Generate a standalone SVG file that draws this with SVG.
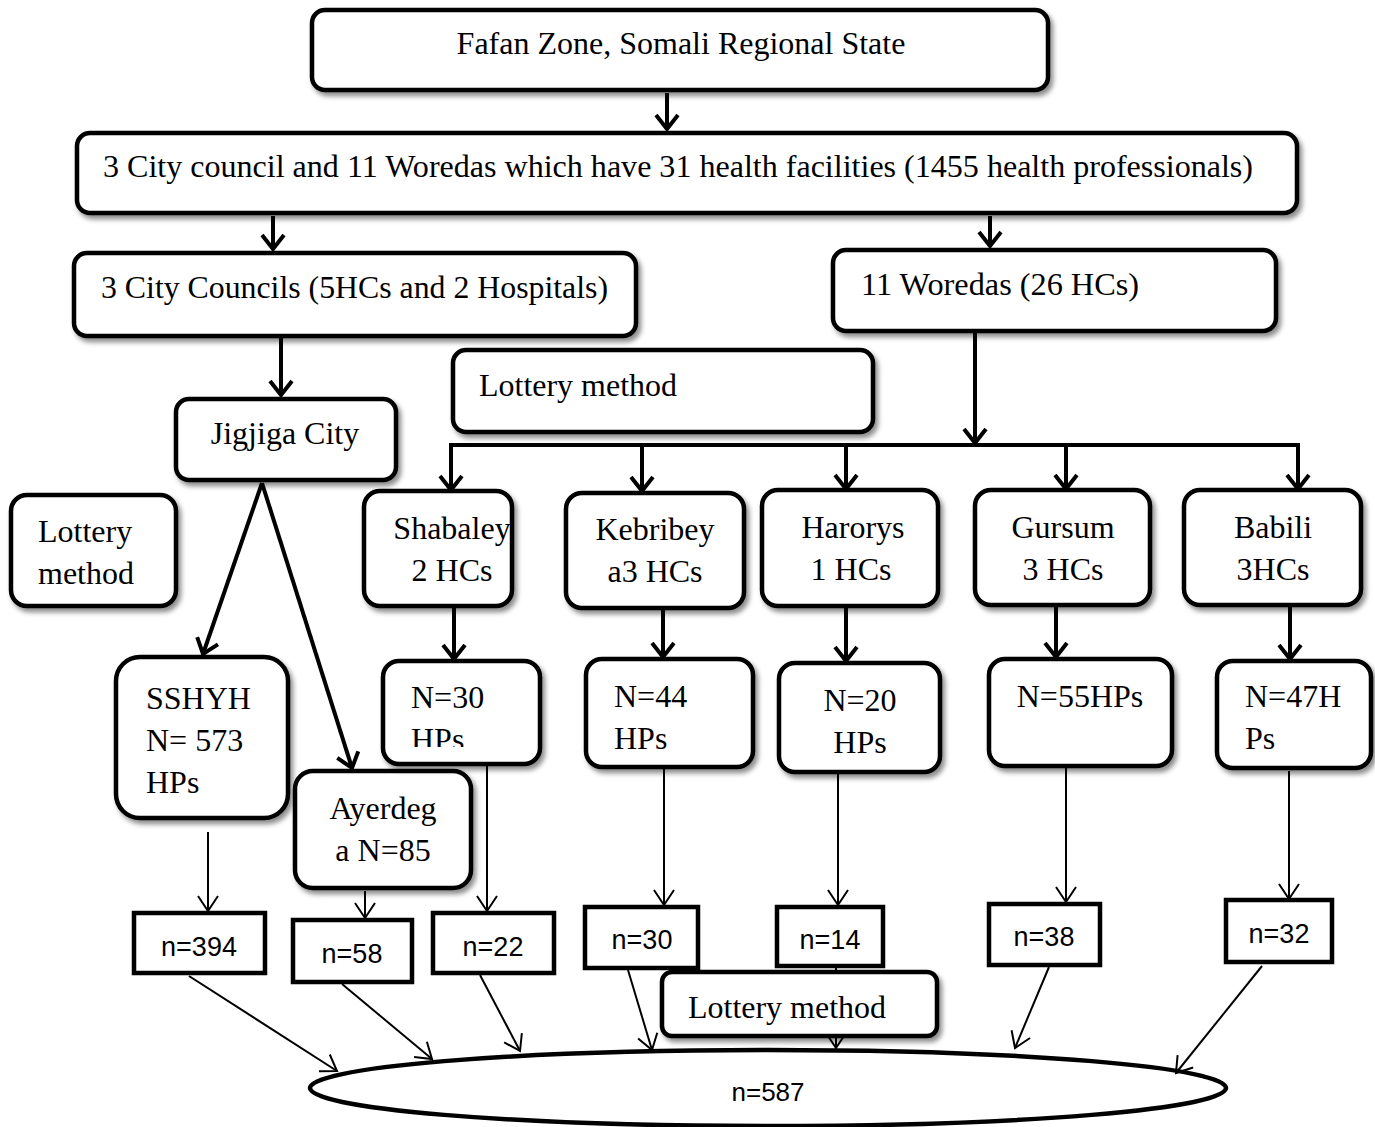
<svg xmlns="http://www.w3.org/2000/svg" width="1375" height="1127" viewBox="0 0 1375 1127">
<style>
.box{fill:#fff;stroke:#000;stroke-width:4.5;filter:url(#sh)}
.sq{fill:#fff;stroke:#000;stroke-width:4.5}
.t{font-family:"Liberation Serif","Times New Roman",serif;font-size:32px;fill:#000}
.c{text-anchor:middle}
.s{font-family:"Liberation Sans",Arial,sans-serif;font-size:27px;fill:#000;text-anchor:middle}
.thick{stroke:#000;stroke-width:4;fill:none;marker-end:url(#ah)}
.bar{stroke:#000;stroke-width:4;fill:none}
.thin{stroke:#000;stroke-width:2;fill:none;marker-end:url(#ahs)}
</style>
<defs>
<filter id="sh" x="-10%" y="-10%" width="130%" height="140%">
<feDropShadow dx="3" dy="4" stdDeviation="2.5" flood-color="#000" flood-opacity="0.45"/>
</filter>
<marker id="ah" viewBox="-18 -14 22 28" refX="0" refY="0" markerWidth="22" markerHeight="28" markerUnits="userSpaceOnUse" orient="auto">
<path d="M-14,-11 L0,0 L-14,11" fill="none" stroke="#000" stroke-width="4"/>
</marker>
<marker id="ahs" viewBox="-18 -12 20 24" refX="0" refY="0" markerWidth="20" markerHeight="24" markerUnits="userSpaceOnUse" orient="auto">
<path d="M-15,-10 L0,0 L-15,10" fill="none" stroke="#000" stroke-width="2"/>
</marker>
<clipPath id="clip30"><rect x="380" y="655" width="165" height="92"/></clipPath>
</defs>
<rect width="1375" height="1127" fill="#fff"/>

<g id="total">
<ellipse cx="768" cy="1088" rx="458" ry="38" fill="#fff" stroke="#000" stroke-width="4.5"/>
<text class="s" x="768" y="1101" style="font-size:26px">n=587</text>
</g>

<g id="connectors">
<line class="thick" x1="667" y1="93" x2="667" y2="129"/>
<line class="thick" x1="273" y1="216" x2="273" y2="249"/>
<line class="thick" x1="990" y1="216" x2="990" y2="246"/>
<line class="thick" x1="281" y1="338" x2="281" y2="395"/>
<line class="thick" x1="975" y1="333" x2="975" y2="443"/>
<path class="bar" d="M451,490 V445 H1298 V490"/>
<line class="thick" x1="451" y1="445" x2="451" y2="490"/>
<line class="thick" x1="642" y1="445" x2="642" y2="491"/>
<line class="thick" x1="846" y1="445" x2="846" y2="489"/>
<line class="thick" x1="1066" y1="445" x2="1066" y2="489"/>
<line class="thick" x1="1298" y1="445" x2="1298" y2="489"/>
<line class="thick" x1="262" y1="483" x2="203" y2="654"/>
<line class="thick" x1="262" y1="483" x2="352" y2="768"/>
<line class="thick" x1="454" y1="608" x2="454" y2="659"/>
<line class="thick" x1="663" y1="609" x2="663" y2="657"/>
<line class="thick" x1="846" y1="608" x2="846" y2="661"/>
<line class="thick" x1="1056" y1="607" x2="1056" y2="657"/>
<line class="thick" x1="1290" y1="607" x2="1290" y2="659"/>
<line class="thin" x1="208" y1="832" x2="208" y2="911"/>
<line class="thin" x1="365" y1="891" x2="365" y2="918"/>
<line class="thin" x1="487" y1="766" x2="487" y2="911"/>
<line class="thin" x1="664" y1="765" x2="664" y2="905"/>
<line class="thin" x1="838" y1="774" x2="838" y2="905"/>
<line class="thin" x1="1066" y1="762" x2="1066" y2="902"/>
<line class="thin" x1="1289" y1="771" x2="1289" y2="899"/>
<line class="thin" x1="189" y1="976" x2="337" y2="1071"/>
<line class="thin" x1="342" y1="984" x2="432" y2="1059"/>
<line class="thin" x1="480" y1="975" x2="520" y2="1051"/>
<line class="thin" x1="628" y1="970" x2="652" y2="1050"/>
<line class="thin" x1="836" y1="968" x2="836" y2="1048"/>
<line class="thin" x1="1049" y1="967" x2="1015" y2="1048"/>
<line class="thin" x1="1262" y1="966" x2="1176" y2="1073"/>
</g>

<g id="fafan">
<rect class="box" x="312" y="10" width="736" height="80" rx="13"/>
<text class="t c" x="681" y="54">Fafan Zone, Somali Regional State</text>
</g>
<g id="all">
<rect class="box" x="77" y="133" width="1220" height="80" rx="13"/>
<text class="t" x="103" y="177" textLength="1150" lengthAdjust="spacingAndGlyphs">3 City council and 11 Woredas which have 31 health facilities (1455 health professionals)</text>
</g>
<g id="city-councils">
<rect class="box" x="74" y="253" width="562" height="83" rx="13"/>
<text class="t" x="101" y="298" textLength="507" lengthAdjust="spacingAndGlyphs">3 City Councils (5HCs and 2 Hospitals)</text>
</g>
<g id="woredas">
<rect class="box" x="833" y="250" width="443" height="81" rx="13"/>
<text class="t" x="861" y="295" textLength="278" lengthAdjust="spacingAndGlyphs">11 Woredas (26 HCs)</text>
</g>
<g id="lottery-mid">
<rect class="box" x="453" y="350" width="420" height="82" rx="13"/>
<text class="t" x="479" y="396" textLength="198" lengthAdjust="spacingAndGlyphs">Lottery method</text>
</g>
<g id="jigjiga">
<rect class="box" x="176" y="399" width="220" height="81" rx="13"/>
<text class="t c" x="285" y="444">Jigjiga City</text>
</g>
<g id="lottery-left">
<rect class="box" x="11" y="495" width="165" height="111" rx="16"/>
<text class="t" x="38" y="542">Lottery</text>
<text class="t" x="38" y="584">method</text>
</g>
<g id="shabaley">
<rect class="box" x="364" y="491" width="148" height="115" rx="16"/>
<text class="t c" x="452" y="539">Shabaley</text>
<text class="t c" x="452" y="581">2 HCs</text>
</g>
<g id="kebribey">
<rect class="box" x="566" y="493" width="178" height="115" rx="16"/>
<text class="t c" x="655" y="540">Kebribey</text>
<text class="t c" x="655" y="582">a3 HCs</text>
</g>
<g id="harorys">
<rect class="box" x="762" y="490" width="176" height="116" rx="16"/>
<text class="t c" x="853" y="538">Harorys</text>
<text class="t c" x="851" y="580">1 HCs</text>
</g>
<g id="gursum">
<rect class="box" x="975" y="490" width="175" height="115" rx="16"/>
<text class="t c" x="1063" y="538">Gursum</text>
<text class="t c" x="1063" y="580">3 HCs</text>
</g>
<g id="babili">
<rect class="box" x="1184" y="490" width="177" height="115" rx="16"/>
<text class="t c" x="1273" y="538">Babili</text>
<text class="t c" x="1273" y="580">3HCs</text>
</g>
<g id="sshyh">
<rect class="box" x="116" y="657" width="172" height="161" rx="24"/>
<text class="t" x="146" y="709">SSHYH</text>
<text class="t" x="146" y="751">N= 573</text>
<text class="t" x="146" y="793">HPs</text>
</g>
<g id="ayerdega">
<rect class="box" x="295" y="771" width="176" height="117" rx="18"/>
<text class="t c" x="383" y="819">Ayerdeg</text>
<text class="t c" x="383" y="861">a N=85</text>
</g>
<g id="n30">
<rect class="box" x="383" y="661" width="157" height="103" rx="16"/>
<text class="t" x="411" y="708">N=30</text>
<text class="t" x="411" y="750" clip-path="url(#clip30)">HPs</text>
</g>
<g id="n44">
<rect class="box" x="586" y="659" width="167" height="108" rx="16"/>
<text class="t" x="614" y="707">N=44</text>
<text class="t" x="614" y="749">HPs</text>
</g>
<g id="n20">
<rect class="box" x="779" y="663" width="161" height="109" rx="16"/>
<text class="t c" x="860" y="711">N=20</text>
<text class="t c" x="860" y="753">HPs</text>
</g>
<g id="n55">
<rect class="box" x="989" y="659" width="183" height="107" rx="16"/>
<text class="t c" x="1080" y="707">N=55HPs</text>
</g>
<g id="n47">
<rect class="box" x="1217" y="661" width="154" height="107" rx="16"/>
<text class="t" x="1245" y="707">N=47H</text>
<text class="t" x="1245" y="749">Ps</text>
</g>
<g id="s394">
<rect class="sq" x="134" y="913" width="131" height="60"/>
<text class="s" x="199" y="956">n=394</text>
</g>
<g id="s58">
<rect class="sq" x="293" y="920" width="119" height="62"/>
<text class="s" x="352" y="963">n=58</text>
</g>
<g id="s22">
<rect class="sq" x="433" y="913" width="121" height="60"/>
<text class="s" x="493" y="956">n=22</text>
</g>
<g id="s30">
<rect class="sq" x="585" y="907" width="113" height="61"/>
<text class="s" x="642" y="949">n=30</text>
</g>
<g id="s14">
<rect class="sq" x="777" y="907" width="106" height="59"/>
<text class="s" x="830" y="949">n=14</text>
</g>
<g id="s38">
<rect class="sq" x="989" y="904" width="111" height="61"/>
<text class="s" x="1044" y="946">n=38</text>
</g>
<g id="s32">
<rect class="sq" x="1226" y="900" width="106" height="62"/>
<text class="s" x="1279" y="943">n=32</text>
</g>
<g id="lottery-bottom">
<rect class="box" x="662" y="972" width="275" height="64" rx="10"/>
<text class="t" x="688" y="1018" textLength="198" lengthAdjust="spacingAndGlyphs">Lottery method</text>
</g>
</svg>
